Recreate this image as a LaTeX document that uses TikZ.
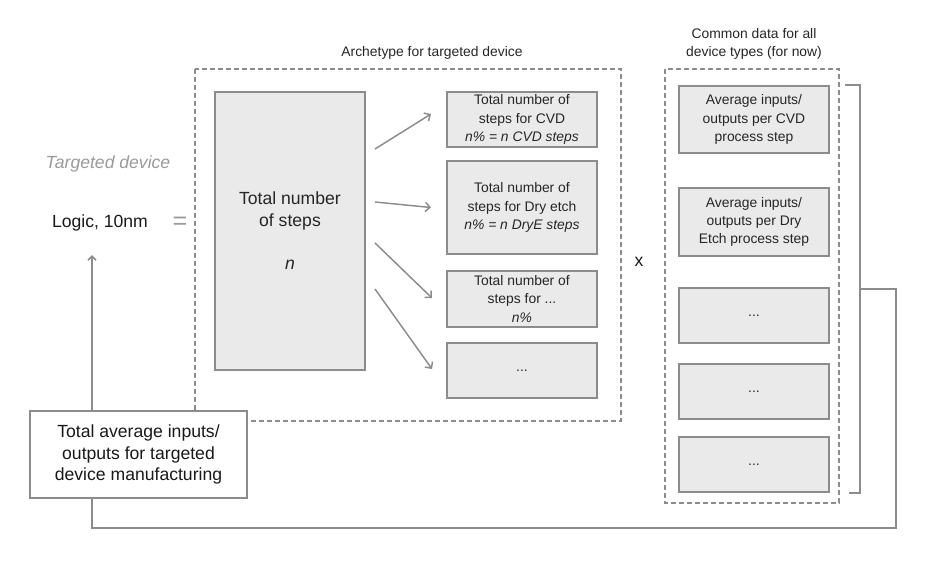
\documentclass[tikz,border=0pt]{standalone}
\usepackage{fontspec}
\setmainfont{Liberation Sans}
\usetikzlibrary{positioning,calc,arrows.meta}
\definecolor{boxgray}{HTML}{EAEAEA}
\definecolor{linegray}{HTML}{8C8C8C}
\definecolor{txtgray}{HTML}{9A9A9A}
\newcommand{\bigtxt}{\fontsize{13.2}{16.25}\selectfont}
\newcommand{\boxtxt}{\fontsize{10.4}{13.7}\selectfont}

\begin{document}
\begin{tikzpicture}[x=0.75pt,y=-0.75pt,
  stepbox/.style={draw=linegray, fill=boxgray, line width=1.5pt, align=center,
    inner sep=0pt, text=black!85, font=\boxtxt, minimum width=112.5pt},
  groupbox/.style={draw=linegray, line width=1.1pt, dash pattern=on 3.6pt off 2.4pt},
  arr/.style={draw=linegray, line width=1.1pt, -{Straight Barb[length=3.5pt,width=7pt]}},
  conn/.style={draw=linegray, line width=1.3pt}]
\useasboundingbox (0,0) rectangle (933,565);

% Dashed groups
\draw[groupbox] (195,69) rectangle (621,421);
\draw[groupbox] (665,69) rectangle (839,503);
\node[font=\boxtxt, text=black!85] (archlbl) at (432,53) {Archetype for targeted device};
\node[font=\boxtxt, text=black!85, align=center] (commonlbl) at (754,44) {Common data for all\\device types (for now)};

% Targeted device
\node[font=\bigtxt\itshape, text=txtgray] (tdlbl) at (108,164) {Targeted device};
\node[font=\bigtxt, text=black!90] (logic) at (100,223) {Logic, 10nm};
\node[font=\fontsize{19}{19}\selectfont, text=txtgray] (eq) at (180,223) {=};

% Archetype
\node[stepbox, font=\bigtxt, minimum height=208.5pt] (steps) at (290,231)
  {Total number\\of steps\\[16.25pt]\textit{n}};
\node[stepbox, minimum height=41.25pt] (cvd) at (522,119.5)
  {Total number of\\steps for CVD\\\textit{n\% = n CVD steps}};
\node[stepbox, minimum height=69.75pt] (dry) at (522,207.5)
  {Total number of\\steps for Dry etch\\\textit{n\% = n DryE steps}};
\node[stepbox, minimum height=42pt] (other) at (522,299)
  {Total number of\\steps for ...\\\textit{n\%}};
\node[stepbox, minimum height=41.25pt] (more) at (522,370.5) {...};

% Split arrows
\draw[arr] ($(steps.east)+(9,-82)$) -- ($(cvd.west)+(-15,-5.5)$);
\draw[arr] ($(steps.east)+(9,-29)$) -- ($(dry.west)+(-15,0)$);
\draw[arr] ($(steps.east)+(9,12)$) -- ($(other.west)+(-14,-1)$);
\draw[arr] ($(steps.east)+(9,58)$) -- ($(more.west)+(-14,-1.5)$);

\node[font=\bigtxt, text=black!90] (times) at (639,262) {x};

% Common data
\node[stepbox, minimum height=50.25pt] (rcvd) at (754,119.5)
  {Average inputs/\\outputs per CVD\\process step};
\node[stepbox, minimum height=51pt] (rdry) at (754,222)
  {Average inputs/\\outputs per Dry\\Etch process step};
\node[stepbox, minimum height=41.25pt] (rthree) at (754,315.5) {...};
\node[stepbox, minimum height=41.25pt] (rfour) at (754,391.5) {...};
\node[stepbox, minimum height=41.25pt] (rfive) at (754,464.5) {...};

% Bracket
\draw[conn] (845,0 |- rcvd.north) -- (860,0 |- rcvd.north)
  -- (860,0 |- rfive.south) -- (849,0 |- rfive.south);
\coordinate (brk) at (860,289);

% Result
\node[draw=linegray, fill=white, line width=1.5pt, align=center, inner sep=0pt,
  minimum width=162.75pt, minimum height=65.25pt, font=\bigtxt, text=black!90]
  (total) at (138.5,454.5) {Total average inputs/\\outputs for targeted\\device manufacturing};

% Feedback
\coordinate (fb) at (92,528);
\coordinate (tip) at (92,255);
\draw[conn] (brk) -- ++(36,0) |- (fb) -- (fb |- total.south);
\draw[conn, -{Straight Barb[length=3pt,width=6pt]}] (total.north -| fb) -- (tip);

\end{tikzpicture}
\end{document}
